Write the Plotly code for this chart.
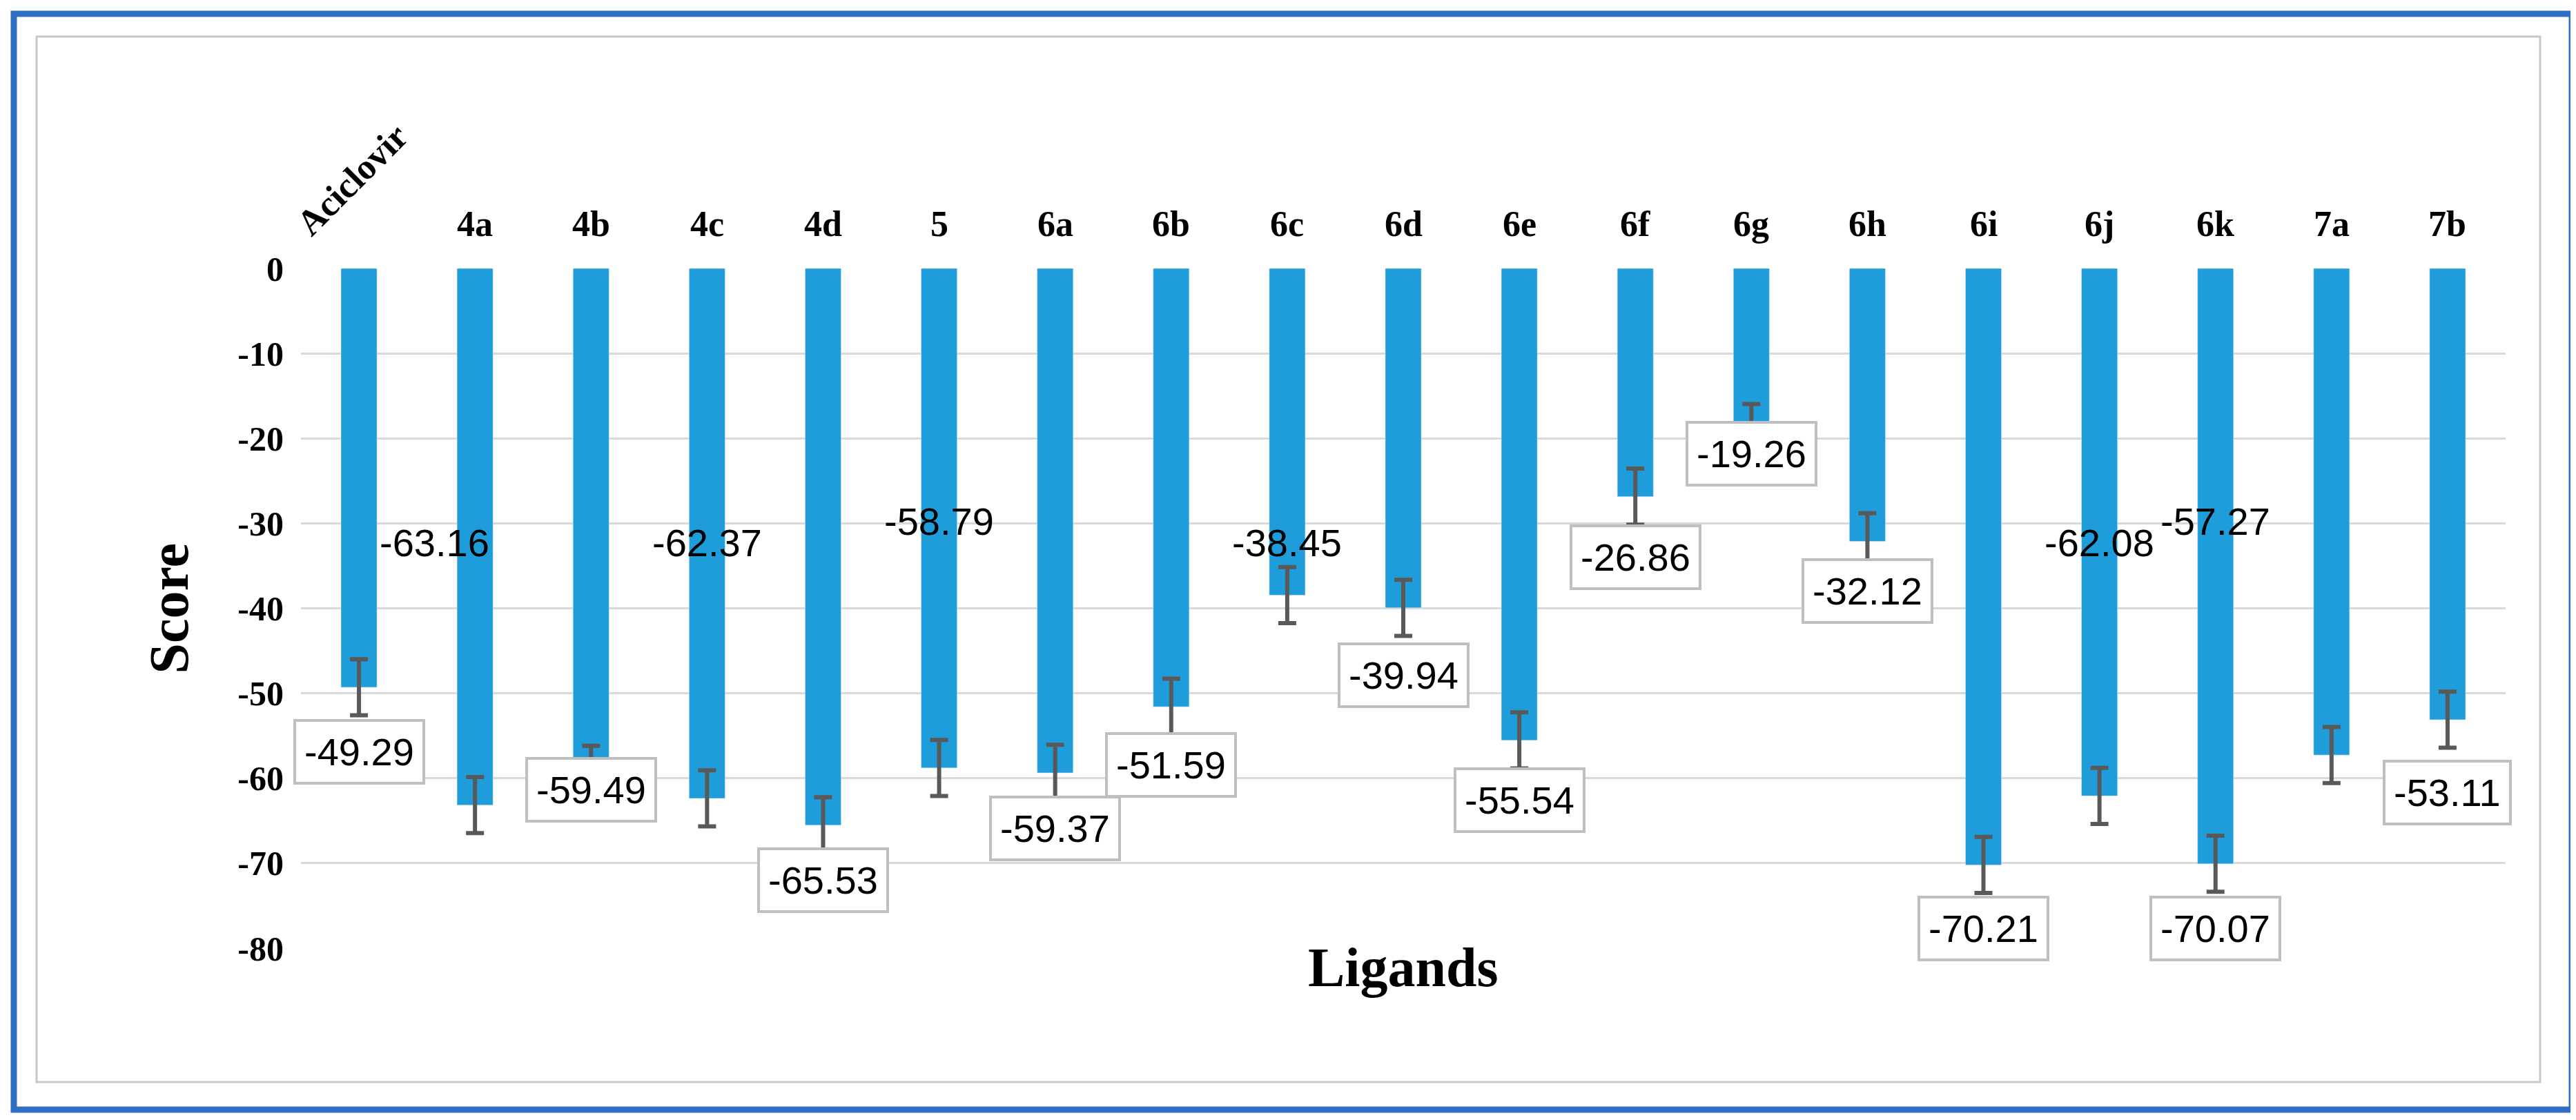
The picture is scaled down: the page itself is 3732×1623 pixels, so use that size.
import plotly.graph_objs as go

ligands = ['Aciclovir', '4a', '4b', '4c', '4d', '5', '6a', '6b', '6c', '6d',
           '6e', '6f', '6g', '6h', '6i', '6j', '6k', '7a', '7b']
scores = [-49.29, -63.16, -59.49, -62.37, -65.53, -58.79, -59.37, -51.59, -38.45, -39.94,
          -55.54, -26.86, -19.26, -32.12, -70.21, -62.08, -70.07, -57.27, -53.11]
erreurs = [3.3] * len(scores)
graduations = [0, -10, -20, -30, -40, -50, -60, -70, -80]

# placement des etiquettes : (decalage x, y, encadre ?)
etiquettes = [(0, -56.9, True), (-0.35, -32.3, False), (0, -61.4, True), (0, -32.3, False),
              (0, -72.0, True), (0, -29.8, False), (0, -65.9, True), (0, -58.4, True),
              (0, -32.3, False), (0, -47.9, True), (0, -62.6, True), (0, -34.0, True),
              (0, -21.8, True), (0, -38.0, True), (0, -77.7, True), (0, -32.3, False),
              (0, -77.7, True), (-1.0, -29.8, False), (0, -61.7, True)]

W, H = 3732, 1623
L, R, T, B = 428, 3622, 381, 1366


def fx(px):
    return (px - L) / (R - L)


def fy(py):
    return (B - py) / (B - T)


trace = go.Bar(x=list(range(len(ligands))), y=scores, width=0.31, marker_color='#1f9cda',
               error_y=dict(type='data', array=erreurs, color='#595959', thickness=6, width=13))

annotations = []
for i, (nom, v, (dx, ly, boite)) in enumerate(zip(ligands, scores, etiquettes)):
    annotations.append(dict(x=i + dx, y=ly, text=f'{v:.2f}', showarrow=False,
                            font=dict(family='Liberation Sans', size=56, color='black'),
                            bgcolor='white' if boite else None,
                            bordercolor='#bfbfbf' if boite else None,
                            borderwidth=4 if boite else 0, borderpad=12))
    annotations.append(dict(x=i, y=1.035, yref='paper', text='<b>' + nom + '</b>', showarrow=False,
                            textangle=-45 if i == 0 else 0, yanchor='bottom',
                            xshift=-10 if i == 0 else 0,
                            font=dict(family='Liberation Serif', size=52, color='black')))
annotations.append(dict(x=0.5, y=fy(1440), xref='paper', yref='paper', text='<b>Ligands</b>',
                        showarrow=False, font=dict(family='Liberation Serif', size=80, color='black')))
annotations.append(dict(x=fx(190), y=0.5, xref='paper', yref='paper', text='<b>Score</b>',
                        textangle=-90, showarrow=False,
                        font=dict(family='Liberation Serif', size=80, color='black')))

shapes = [
    dict(type='rect', xref='paper', yref='paper', x0=fx(45), x1=fx(3672), y0=fy(45), y1=fy(1560),
         line=dict(color='#c8c8c8', width=3)),
    dict(type='rect', xref='paper', yref='paper', x0=fx(12), x1=fx(3718), y0=fy(12), y1=fy(1600),
         line=dict(color='#2f6fc4', width=9)),
]

layout = go.Layout(
    width=W, height=H, margin=dict(l=L, r=W - R, t=T, b=H - B),
    paper_bgcolor='white', plot_bgcolor='white', showlegend=False,
    xaxis=dict(range=[-0.5, 18.5], showticklabels=False, showgrid=False, zeroline=False),
    yaxis=dict(range=[-80, 0], tickvals=graduations,
               ticktext=['<b>%d</b>' % g for g in graduations],
               gridcolor='#d9d9d9', gridwidth=3, zeroline=False,
               tickfont=dict(family='Liberation Serif', size=50, color='black'),
               ticklabelstandoff=24),
    annotations=annotations, shapes=shapes)

fig = go.Figure(data=[trace], layout=layout)
fig.write_html('out.html')
